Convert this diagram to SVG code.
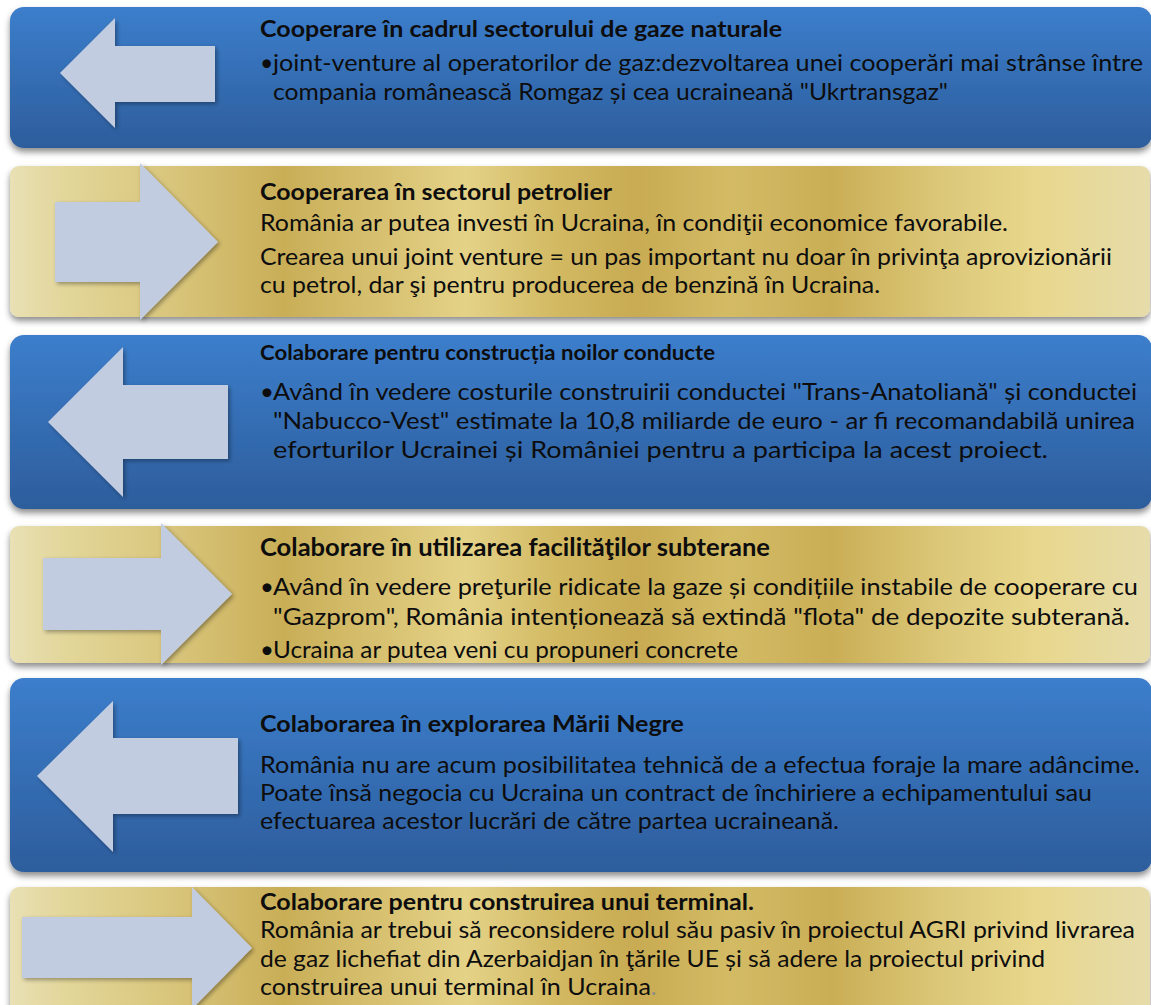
<svg xmlns="http://www.w3.org/2000/svg" width="1151" height="1005" viewBox="0 0 1151 1005">
<defs>
<linearGradient id="blue" x1="0" y1="0" x2="0" y2="1">
<stop offset="0" stop-color="#3c7ecc"/>
<stop offset="1" stop-color="#2d5d9c"/>
</linearGradient>
<linearGradient id="gold" gradientUnits="userSpaceOnUse" x1="10" y1="0" x2="1150" y2="0">
<stop offset="0" stop-color="#e9e0b4"/>
<stop offset="0.05" stop-color="#e2d699"/>
<stop offset="0.14" stop-color="#d9c67c"/>
<stop offset="0.24" stop-color="#c9ae57"/>
<stop offset="0.33" stop-color="#d8c272"/>
<stop offset="0.40" stop-color="#e4d287"/>
<stop offset="0.48" stop-color="#d2b962"/>
<stop offset="0.55" stop-color="#c8ab52"/>
<stop offset="0.63" stop-color="#d3bb65"/>
<stop offset="0.72" stop-color="#caae56"/>
<stop offset="0.82" stop-color="#dcc879"/>
<stop offset="0.90" stop-color="#e8d78c"/>
<stop offset="1" stop-color="#e6dcab"/>
</linearGradient>
<filter id="bandShadow" x="-5%" y="-10%" width="110%" height="130%">
<feDropShadow dx="0" dy="4" stdDeviation="3" flood-color="#000" flood-opacity="0.45"/>
</filter>
<filter id="arrowShadow" x="-10%" y="-10%" width="130%" height="130%">
<feDropShadow dx="2" dy="2" stdDeviation="2" flood-color="#000" flood-opacity="0.35"/>
</filter>
</defs>
<style>
.blue{fill:url(#blue);filter:url(#bandShadow)}
.gold{fill:url(#gold);filter:url(#bandShadow)}
.arrow{fill:#c2cce0;filter:url(#arrowShadow)}
text{font-family:Lato,"Open Sans","Liberation Sans",sans-serif;font-size:23px;fill:#0d0d0d}
.t{font-weight:bold}
.c{font-size:24px}
.ct{font-size:20px;font-weight:bold}
.cb{font-size:24px;font-weight:bold}
</style>
<rect width="1151" height="1005" fill="#ffffff"/>
<g id="connectors"/>
<g id="node-1">
<rect class="blue" x="10" y="7" width="1142" height="141" rx="14"/>
<polygon class="arrow" points="60,73 115,18 115,46 215,46 215,102 115,102 115,128"/>
<text class="t" x="260" y="37" textLength="522" lengthAdjust="spacingAndGlyphs">Cooperare în cadrul sectorului de gaze naturale</text>
<text x="260" y="71">•</text>
<text x="273" y="71" textLength="870" lengthAdjust="spacingAndGlyphs">joint-venture al operatorilor de gaz:dezvoltarea  unei cooperări mai strânse între</text>
<text x="273" y="100" textLength="675" lengthAdjust="spacingAndGlyphs">compania românească Romgaz și cea ucraineană "Ukrtransgaz"</text>
</g>
<g id="node-2">
<rect class="gold" x="10" y="166" width="1140" height="151" rx="9"/>
<polygon class="arrow" points="55,202 140,202 140,163 218,242 140,320 140,282 55,282"/>
<text class="t" x="260" y="200" textLength="352" lengthAdjust="spacingAndGlyphs">Cooperarea în sectorul petrolier</text>
<text x="260" y="231" textLength="748" lengthAdjust="spacingAndGlyphs">România ar putea investi în Ucraina, în condiţii economice favorabile.</text>
<text x="260" y="265" textLength="852" lengthAdjust="spacingAndGlyphs">Crearea unui joint venture = un pas important nu doar în privinţa aprovizionării</text>
<text x="260" y="293" textLength="620" lengthAdjust="spacingAndGlyphs">cu petrol, dar şi pentru producerea de benzină în Ucraina.</text>
</g>
<g id="node-3">
<rect class="blue" x="10" y="335" width="1142" height="174" rx="14"/>
<polygon class="arrow" points="48,422 123,347 123,385 228,385 228,459 123,459 123,497"/>
<text class="ct" x="260" y="360" textLength="455" lengthAdjust="spacingAndGlyphs">Colaborare pentru construcția noilor conducte</text>
<text class="c" x="260" y="400">•</text>
<text class="c" x="273" y="400" textLength="864" lengthAdjust="spacingAndGlyphs">Având în vedere costurile construirii conductei "Trans-Anatoliană" și conductei</text>
<text class="c" x="273" y="429" textLength="862" lengthAdjust="spacingAndGlyphs">"Nabucco-Vest" estimate la 10,8 miliarde de euro - ar fi recomandabilă unirea</text>
<text class="c" x="273" y="458" textLength="775" lengthAdjust="spacingAndGlyphs">eforturilor Ucrainei și României  pentru a participa la acest proiect.</text>
</g>
<g id="node-4">
<rect class="gold" x="10" y="526" width="1140" height="137" rx="9"/>
<polygon class="arrow" points="43,558 161,558 161,523 232,594 161,665 161,630 43,630"/>
<text class="cb" x="260" y="556" textLength="510" lengthAdjust="spacingAndGlyphs">Colaborare în utilizarea facilităţilor subterane</text>
<text class="c" x="260" y="595">•</text>
<text class="c" x="273" y="595" textLength="865" lengthAdjust="spacingAndGlyphs">Având în vedere preţurile ridicate la gaze și condițiile instabile de cooperare cu</text>
<text class="c" x="273" y="625" textLength="857" lengthAdjust="spacingAndGlyphs">"Gazprom", România intenționează să extindă "flota" de depozite subterană.</text>
<text class="c" x="260" y="658">•</text>
<text class="c" x="273" y="658" textLength="465" lengthAdjust="spacingAndGlyphs">Ucraina ar putea veni cu propuneri concrete</text>
</g>
<g id="node-5">
<rect class="blue" x="10" y="678" width="1142" height="194" rx="14"/>
<polygon class="arrow" points="37,776 113,701 113,738 238,738 238,814 113,814 113,852"/>
<text class="t" x="260" y="732" textLength="424" lengthAdjust="spacingAndGlyphs">Colaborarea în explorarea  Mării Negre</text>
<text x="260" y="773" textLength="880" lengthAdjust="spacingAndGlyphs">România nu are acum posibilitatea tehnică de a efectua  foraje la mare adâncime.</text>
<text x="260" y="801" textLength="832" lengthAdjust="spacingAndGlyphs">Poate însă negocia cu Ucraina un contract de închiriere a echipamentului sau</text>
<text x="260" y="829" textLength="579" lengthAdjust="spacingAndGlyphs">efectuarea acestor lucrări de către partea ucraineană.</text>
</g>
<g id="node-6">
<rect class="gold" x="10" y="887" width="1140" height="130" rx="9"/>
<polygon class="arrow" points="22,917 192,917 192,887 252,948 192,1009 192,978 22,978"/>
<text class="t" x="260" y="910" textLength="494" lengthAdjust="spacingAndGlyphs">Colaborare pentru construirea unui terminal.</text>
<text x="260" y="938" textLength="875" lengthAdjust="spacingAndGlyphs">România ar trebui să reconsidere rolul său pasiv în proiectul AGRI privind livrarea</text>
<text x="260" y="967" textLength="785" lengthAdjust="spacingAndGlyphs">de gaz lichefiat din Azerbaidjan în ţările UE și să adere la proiectul privind</text>
<text x="260" y="995" textLength="391" lengthAdjust="spacingAndGlyphs">construirea unui terminal în Ucraina</text>
<text x="651" y="995" style="fill:#8a8a8a">.</text>
</g>
</svg>
